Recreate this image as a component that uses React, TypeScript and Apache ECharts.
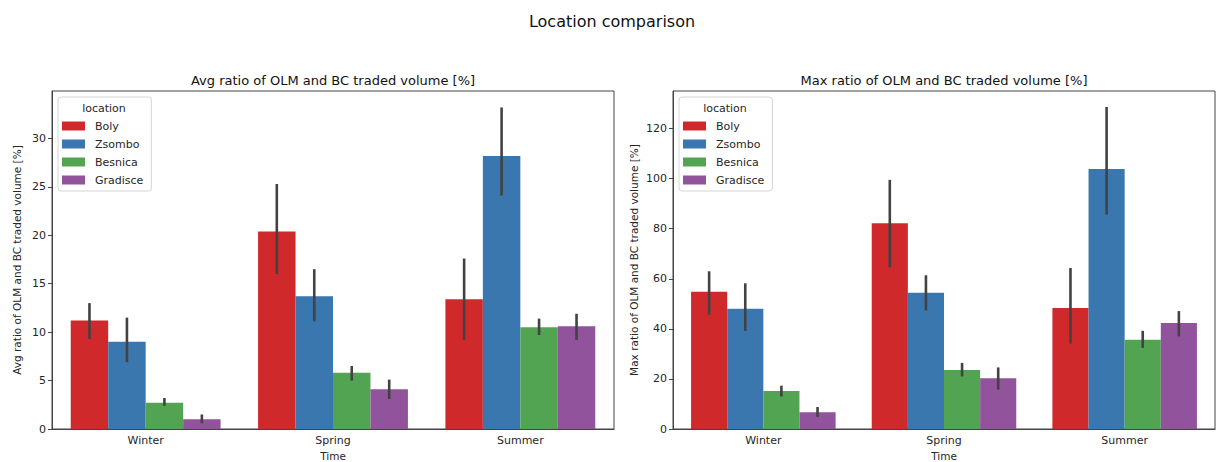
import React, { useEffect, useRef } from "react";
import * as echarts from "echarts";

const categories = ["Winter", "Spring", "Summer"];
const locations = ["Boly", "Zsombo", "Besnica", "Gradisce"];
const colors = ["#d0292c", "#3b77af", "#53a452", "#91539b"];

// Avg ratio (%) per location, per season
const avgBoly = [11.2, 20.4, 13.4];
const avgZsombo = [9.0, 13.7, 28.2];
const avgBesnica = [2.7, 5.8, 10.5];
const avgGradisce = [1.0, 4.1, 10.6];
// Avg ratio confidence intervals [low, high]
const avgBolyCI = [[9.3, 13.0], [16.0, 25.3], [9.2, 17.6]];
const avgZsomboCI = [[6.9, 11.5], [11.1, 16.5], [24.1, 33.2]];
const avgBesnicaCI = [[2.4, 3.2], [5.0, 6.5], [9.7, 11.4]];
const avgGradisceCI = [[0.6, 1.5], [3.1, 5.1], [9.2, 11.9]];

// Max ratio (%) per location, per season
const maxBoly = [54.8, 82.2, 48.3];
const maxZsombo = [48.0, 54.4, 103.8];
const maxBesnica = [15.2, 23.6, 35.6];
const maxGradisce = [6.7, 20.3, 42.3];
const maxBolyCI = [[45.6, 63.0], [64.5, 99.5], [34.1, 64.3]];
const maxZsomboCI = [[39.2, 58.2], [47.4, 61.4], [85.7, 128.6]];
const maxBesnicaCI = [[13.0, 17.3], [21.0, 26.4], [32.4, 39.2]];
const maxGradisceCI = [[4.8, 8.8], [15.7, 24.6], [37.0, 47.1]];

const FONT = "DejaVu Sans";
const TXT = "#262626";

export default function App() {
  const ref = useRef<HTMLDivElement>(null);
  useEffect(() => {
    if (!ref.current) return;
    const chart = echarts.init(ref.current, null, { renderer: "svg" });

    const avgVals = [avgBoly, avgZsombo, avgBesnica, avgGradisce];
    const avgCIs = [avgBolyCI, avgZsomboCI, avgBesnicaCI, avgGradisceCI];
    const maxVals = [maxBoly, maxZsombo, maxBesnica, maxGradisce];
    const maxCIs = [maxBolyCI, maxZsomboCI, maxBesnicaCI, maxGradisceCI];

    const grids = [
      { left: 52, top: 91, width: 562, height: 338 },
      { left: 673, top: 91, width: 542, height: 338 },
    ];

    const makeX = (gi: number) => ({
      type: "category",
      gridIndex: gi,
      data: categories,
      name: "Time",
      nameLocation: "middle",
      nameGap: 20,
      nameTextStyle: { fontFamily: FONT, fontSize: 10.5, color: TXT },
      axisLine: { lineStyle: { color: "#444", width: 1 } },
      axisTick: { alignWithLabel: true, length: 4, lineStyle: { color: "#444" } },
      axisLabel: { fontFamily: FONT, fontSize: 11, color: TXT, margin: 6 },
    });
    const makeY = (gi: number, max: number, interval: number, name: string, gap: number) => ({
      type: "value",
      gridIndex: gi,
      min: 0,
      max,
      interval,
      name,
      nameLocation: "middle",
      nameGap: gap,
      nameTextStyle: { fontFamily: FONT, fontSize: 10.5, color: TXT },
      splitLine: { show: false },
      axisLine: { show: true, lineStyle: { color: "#444", width: 1 } },
      axisTick: { show: true, length: 4, lineStyle: { color: "#444" } },
      axisLabel: { fontFamily: FONT, fontSize: 11, color: TXT, margin: 6, showMaxLabel: false },
    });

    const series: any[] = [];
    const addSet = (gi: number, vals: number[][], cis: number[][][]) => {
      locations.forEach((loc, i) => {
        series.push({
          type: "bar",
          name: loc,
          xAxisIndex: gi,
          yAxisIndex: gi,
          data: vals[i],
          itemStyle: { color: colors[i] },
          barGap: "0%",
          barCategoryGap: "20%",
        });
      });
      locations.forEach((loc, i) => {
        series.push({
          type: "custom",
          name: loc + " CI",
          xAxisIndex: gi,
          yAxisIndex: gi,
          z: 5,
          data: cis[i].map((c, k) => [k, c[0], c[1]]),
          encode: { x: 0, y: [1, 2] },
          renderItem: (params: any, api: any) => {
            const k = api.value(0);
            const p0 = api.coord([k, api.value(1)]);
            const p1 = api.coord([k, api.value(2)]);
            const band = api.size([1, 0])[0];
            const off = (i - 1.5) * band * 0.2;
            return {
              type: "line",
              shape: { x1: p0[0] + off, y1: p0[1], x2: p1[0] + off, y2: p1[1] },
              style: { stroke: "#424242", lineWidth: 2.6 },
            };
          },
        });
      });
    };
    addSet(0, avgVals, avgCIs);
    addSet(1, maxVals, maxCIs);

    const makeLegend = (left: number) => ({
      orient: "vertical",
      left,
      top: 97,
      data: locations,
      icon: "rect",
      itemWidth: 23,
      itemHeight: 9,
      itemGap: 4,
      padding: [22, 8, 4, 4],
      borderColor: "#d5d5d5",
      borderWidth: 1,
      borderRadius: 3,
      backgroundColor: "rgba(255,255,255,0.8)",
      selectedMode: false,
      textStyle: { fontFamily: FONT, fontSize: 11, color: TXT, lineHeight: 14, padding: [0, 0, 0, 5] },
    });

    chart.setOption({
      animation: false,
      backgroundColor: "#fff",
      grid: grids.map((g) => ({
        ...g,
        outerBoundsMode: "none",
        containLabel: false,
        show: true,
        borderColor: "#444",
        borderWidth: 1,
        backgroundColor: "transparent",
      })),
      xAxis: [makeX(0), makeX(1)],
      yAxis: [
        makeY(0, 34.9, 5, "Avg ratio of OLM and BC traded volume [%]", 30),
        makeY(1, 135, 20, "Max ratio of OLM and BC traded volume [%]", 34),
      ],
      legend: [makeLegend(58), makeLegend(679)],
      series,
      graphic: [
        {
          type: "text",
          left: "center",
          top: 13,
          style: { text: "Location comparison", font: `16px ${FONT}`, fill: "#111" },
        },
        {
          type: "text",
          x: 333,
          y: 80,
          style: { text: "Avg ratio of OLM and BC traded volume [%]", font: `13px ${FONT}`, fill: "#111", textAlign: "center", textVerticalAlign: "middle" },
        },
        {
          type: "text",
          x: 944,
          y: 80,
          style: { text: "Max ratio of OLM and BC traded volume [%]", font: `13px ${FONT}`, fill: "#111", textAlign: "center", textVerticalAlign: "middle" },
        },
        {
          type: "text",
          x: 104,
          y: 108,
          z: 100,
          style: { text: "location", font: `11px ${FONT}`, fill: TXT, textAlign: "center", textVerticalAlign: "middle" },
        },
        {
          type: "text",
          x: 725,
          y: 108,
          z: 100,
          style: { text: "location", font: `11px ${FONT}`, fill: TXT, textAlign: "center", textVerticalAlign: "middle" },
        },
      ],
    });
    return () => chart.dispose();
  }, []);
  return (
    <div
      ref={ref}
      style={{ position: "fixed", left: 0, top: 0, width: 1224, height: 462 }}
    />
  );
}
